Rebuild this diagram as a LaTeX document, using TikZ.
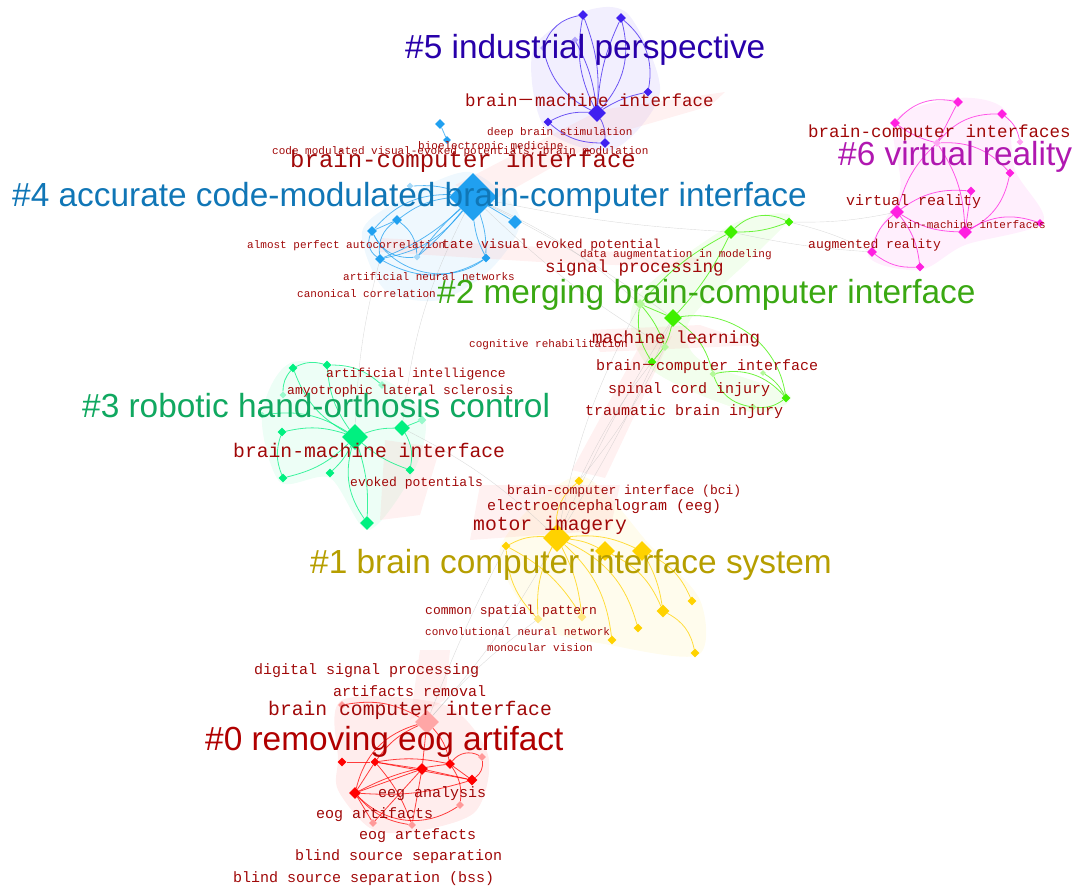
\documentclass[tikz,border=0pt]{standalone}
\usepackage{fontspec}
\newfontfamily\kwfont{Liberation Mono}
\newfontfamily\clufont{Liberation Sans}
\newfontfamily\cjk{Noto Sans CJK SC}
\usetikzlibrary{shapes.geometric,backgrounds}
\definecolor{kwred}{RGB}{160,8,8}
\definecolor{c0t}{RGB}{176,0,0}
\definecolor{c1t}{RGB}{182,158,0}
\definecolor{c2t}{RGB}{58,168,18}
\definecolor{c3t}{RGB}{16,168,96}
\definecolor{c4t}{RGB}{16,118,182}
\definecolor{c5t}{RGB}{40,0,170}
\definecolor{c6t}{RGB}{176,24,176}
\definecolor{c0n}{RGB}{255,0,0}
\definecolor{c1n}{RGB}{255,210,0}
\definecolor{c2n}{RGB}{64,240,0}
\definecolor{c3n}{RGB}{0,240,128}
\definecolor{c4n}{RGB}{32,160,240}
\definecolor{c5n}{RGB}{64,32,240}
\definecolor{c6n}{RGB}{255,32,224}
\begin{document}
\begin{tikzpicture}[x=1pt, y=-1pt,
	dia/.style={diamond, inner sep=0pt, draw=none, minimum size=#1},
	kw/.style={text=kwred, inner sep=0pt, anchor=mid west},
	kwxs/.style={kw, font=\kwfont\fontsize{11}{13}\selectfont},
	kws/.style={kw, font=\kwfont\fontsize{13}{15}\selectfont},
	kwm/.style={kw, font=\kwfont\fontsize{15}{17}\selectfont},
	kwl/.style={kw, font=\kwfont\fontsize{17.5}{20}\selectfont},
	kwxl/.style={kw, font=\kwfont\fontsize{19.7}{22}\selectfont},
	kwxxl/.style={kw, font=\kwfont\fontsize{24}{28}\selectfont},
	clu/.style={font=\clufont\fontsize{33.4}{40}\selectfont, inner sep=0pt, anchor=base west},
	hull/.style={fill=#1, fill opacity=0.07},
	band/.style={fill=red!30, fill opacity=0.18},
	glink/.style={draw=gray!55, line width=0.4pt, opacity=0.5},
	link/.style={draw=#1, line width=0.8pt, opacity=0.75}]
	\useasboundingbox (0,0) rectangle (1081,887);

	% cluster 5
	\node[dia=18pt, fill=c5n] (n5h) at (597,113) {};
	\node[dia=10pt, fill=c5n] (n5a) at (583,15) {};
	\node[dia=10pt, fill=c5n] (n5b) at (621,18) {};
	\node[dia=9pt, fill=c5n] (n5c) at (648,92) {};
	\node[dia=9pt, fill=c5n] (n5d) at (548,122) {};
	\node[dia=10pt, fill=c5n] (n5e) at (605,143) {};
	\node[dia=7pt, fill=c5n!40] (n5f) at (575,40) {};
	\node[dia=6pt, fill=c5n!40] (n5g) at (543,48) {};
	% cluster 4
	\node[dia=48pt, fill=c4n] (n4h) at (473,197) {};
	\node[dia=10pt, fill=c4n] (n4a) at (440,124) {};
	\node[dia=8pt, fill=c4n] (n4b) at (447,140) {};
	\node[dia=7pt, fill=c4n!40] (n4c) at (410,186) {};
	\node[dia=10pt, fill=c4n] (n4d) at (397,220) {};
	\node[dia=10pt, fill=c4n] (n4e) at (372,231) {};
	\node[dia=14pt, fill=c4n] (n4f) at (515,222) {};
	\node[dia=10pt, fill=c4n] (n4g) at (380,259) {};
	\node[dia=9pt, fill=c4n] (n4k) at (486,258) {};
	\node[dia=7pt, fill=c4n!40] (n4i) at (417,257) {};
	% cluster 6
	\node[dia=10pt, fill=c6n] (n6a) at (958,102) {};
	\node[dia=10pt, fill=c6n] (n6b) at (1002,114) {};
	\node[dia=10pt, fill=c6n] (n6c) at (895,123) {};
	\node[dia=7pt, fill=c6n!40] (n6d) at (1020,142) {};
	\node[dia=9pt, fill=c6n] (n6e) at (1010,173) {};
	\node[dia=9pt, fill=c6n] (n6f) at (971,191) {};
	\node[dia=14pt, fill=c6n] (n6g) at (897,212) {};
	\node[dia=14pt, fill=c6n] (n6h) at (965,232) {};
	\node[dia=8pt, fill=c6n] (n6i) at (1040,223) {};
	\node[dia=10pt, fill=c6n] (n6j) at (872,252) {};
	\node[dia=9pt, fill=c6n] (n6k) at (920,267) {};
	\node[dia=8pt, fill=c6n!40] (n6l) at (937,143) {};
	% cluster 2
	\node[dia=14pt, fill=c2n] (n2a) at (731,232) {};
	\node[dia=9pt, fill=c2n] (n2b) at (789,222) {};
	\node[dia=18pt, fill=c2n] (n2c) at (673,318) {};
	\node[dia=10pt, fill=c2n!40] (n2d) at (640,304) {};
	\node[dia=8pt, fill=c2n!40] (n2e) at (665,347) {};
	\node[dia=9pt, fill=c2n] (n2f) at (652,362) {};
	\node[dia=7pt, fill=c2n!40] (n2g) at (713,374) {};
	\node[dia=9pt, fill=c2n] (n2h) at (786,398) {};
	\node[dia=7pt, fill=c2n!40] (n2i) at (753,407) {};
	\node[dia=6pt, fill=c2n!40] (n2j) at (763,373) {};
	% cluster 3
	\node[dia=26pt, fill=c3n] (n3h) at (355,437) {};
	\node[dia=9pt, fill=c3n] (n3a) at (293,368) {};
	\node[dia=9pt, fill=c3n] (n3b) at (327,365) {};
	\node[dia=8pt, fill=c3n!40] (n3c) at (382,385) {};
	\node[dia=7pt, fill=c3n!40] (n3d) at (283,395) {};
	\node[dia=16pt, fill=c3n] (n3e) at (402,428) {};
	\node[dia=9pt, fill=c3n!40] (n3f) at (422,420) {};
	\node[dia=9pt, fill=c3n] (n3g) at (282,432) {};
	\node[dia=9pt, fill=c3n] (n3i) at (283,478) {};
	\node[dia=9pt, fill=c3n] (n3j) at (330,473) {};
	\node[dia=9pt, fill=c3n] (n3k) at (410,470) {};
	\node[dia=14pt, fill=c3n] (n3l) at (367,523) {};
	\node[dia=7pt, fill=c3n!40] (n3m) at (262,415) {};
	% cluster 1
	\node[dia=28pt, fill=c1n] (n1h) at (557,538) {};
	\node[dia=9pt, fill=c1n] (n1a) at (579,481) {};
	\node[dia=9pt, fill=c1n] (n1b) at (506,546) {};
	\node[dia=20pt, fill=c1n] (n1c) at (605,551) {};
	\node[dia=20pt, fill=c1n] (n1d) at (642,551) {};
	\node[dia=9pt, fill=c1n] (n1e) at (692,601) {};
	\node[dia=13pt, fill=c1n] (n1f) at (663,611) {};
	\node[dia=9pt, fill=c1n] (n1g) at (638,628) {};
	\node[dia=9pt, fill=c1n] (n1i) at (612,640) {};
	\node[dia=9pt, fill=c1n] (n1j) at (695,653) {};
	\node[dia=9pt, fill=c1n!50] (n1k) at (538,619) {};
	\node[dia=9pt, fill=c1n!50] (n1l) at (582,617) {};
	% cluster 0
	\node[dia=24pt, fill=c0n!35] (n0h) at (427,722) {};
	\node[dia=9pt, fill=c0n] (n0a) at (342,762) {};
	\node[dia=9pt, fill=c0n] (n0b) at (375,762) {};
	\node[dia=12pt, fill=c0n] (n0c) at (422,769) {};
	\node[dia=10pt, fill=c0n] (n0d) at (450,764) {};
	\node[dia=8pt, fill=c0n!40] (n0e) at (482,757) {};
	\node[dia=11pt, fill=c0n] (n0f) at (472,780) {};
	\node[dia=12pt, fill=c0n] (n0g) at (355,793) {};
	\node[dia=8pt, fill=c0n!40] (n0i) at (460,805) {};
	\node[dia=8pt, fill=c0n!40] (n0j) at (412,825) {};
	\node[dia=8pt, fill=c0n!40] (n0k) at (373,823) {};
	\node[dia=8pt, fill=c0n!40] (n0l) at (342,705) {};

	\begin{scope}[on background layer]
		% hulls and burst bands
		\fill[hull=c5n] plot[smooth cycle] coordinates {(583,12) (628,14) (660,92) (612,150) (545,128) (533,50)};
		\fill[hull=c4n] plot[smooth cycle] coordinates {(470,172) (520,218) (492,268) (440,300) (385,290) (362,232) (400,200)};
		\fill[hull=c6n] plot[smooth cycle] coordinates {(895,120) (958,98) (1005,110) (1015,170) (1043,222) (965,245) (920,270) (868,255) (900,190)};
		\fill[hull=c2n] plot[smooth cycle] coordinates {(731,225) (790,215) (760,250) (690,320) (700,360) (790,395) (750,412) (650,368) (635,300)};
		\fill[hull=c3n] plot[smooth cycle] coordinates {(293,362) (385,380) (425,420) (412,475) (368,530) (330,478) (280,482) (262,415)};
		\fill[hull=c1n] plot[smooth cycle] coordinates {(579,476) (650,545) (700,600) (698,655) (610,645) (540,625) (500,548)};
		\fill[hull=c0n] plot[smooth cycle] coordinates {(342,700) (445,705) (488,755) (475,812) (412,832) (370,828) (338,790) (338,760)};
		\fill[band] (455,185) -- (600,110) -- (725,92) -- (710,106) -- (610,135) -- (490,202) -- cycle;
		\fill[band] (380,238) -- (560,248) -- (700,258) -- (690,268) -- (540,262) -- (380,252) -- cycle;
		\fill[band] (572,470) -- (640,345) -- (672,336) -- (605,478) -- cycle;
		\fill[band] (590,330) -- (700,325) -- (760,345) -- (600,352) -- cycle;
		\fill[band] (385,440) -- (440,448) -- (420,515) -- (380,520) -- cycle;
		\fill[band] (480,485) -- (620,485) -- (610,530) -- (470,540) -- cycle;
		\fill[band] (420,650) -- (450,650) -- (445,700) -- (410,720) -- cycle;
		% links between clusters
		\draw[glink] (n4h) to[bend left=8] (n2d);
		\draw[glink] (n4h) to[bend left=4] (n2c);
		\draw[glink] (n4h) to[bend right=6] (n2e);
		\draw[glink] (n4h) to[bend right=10] (n3e);
		\draw[glink] (n4h) to[bend right=4] (n2a);
		\draw[glink] (n1h) to[bend left=4] (n2c);
		\draw[glink] (n1h) to[bend right=4] (n2c);
		\draw[glink] (n1a) to[bend left=6] (n2f);
		\draw[glink] (n1a) to[bend right=6] (n2e);
		\draw[glink] (n1h) to[bend left=8] (n2d);
		\draw[glink] (n1h) to[bend right=8] (n3e);
		\draw[glink] (n0h) to[bend left=6] (n1k);
		\draw[glink] (n0h) to[bend right=6] (n1h);
		\draw[glink] (n0h) to[bend left=3] (n1b);
		\draw[glink] (n6g) to[bend left=6] (n2b);
		\draw[glink] (n6j) to[bend right=6] (n2b);
		\draw[glink] (n6j) to[bend left=4] (n2a);
		\draw[glink] (n3h) to[bend left=6] (n4g);
		% cluster 5
		\draw[link=c5n] (n5h) to[bend left=18] (n5a);
		\draw[link=c5n] (n5h) to[bend right=12] (n5a);
		\draw[link=c5n] (n5h) to[bend left=10] (n5b);
		\draw[link=c5n] (n5h) to[bend right=28] (n5b);
		\draw[link=c5n] (n5b) to[bend left=30] (n5c);
		\draw[link=c5n] (n5h) to[bend left=10] (n5c);
		\draw[link=c5n] (n5h) to[bend right=15] (n5d);
		\draw[link=c5n] (n5h) to[bend left=15] (n5e);
		\draw[link=c5n] (n5d) to[bend right=20] (n5e);
		\draw[link=c5n] (n5a) to[bend right=30] (n5g);
		\draw[link=c5n] (n5g) to[bend right=25] (n5h);
		\draw[link=c5n] (n5f) to[bend left=10] (n5h);
		% cluster 4
		\draw[link=c4n] (n4a) -- (n4b);
		\draw[link=c4n] (n4h) to[bend right=15] (n4d);
		\draw[link=c4n] (n4h) to[bend right=25] (n4e);
		\draw[link=c4n] (n4h) to[bend left=10] (n4g);
		\draw[link=c4n] (n4h) to[bend left=20] (n4g);
		\draw[link=c4n] (n4h) to[bend left=5] (n4i);
		\draw[link=c4n] (n4h) to[bend right=5] (n4i);
		\draw[link=c4n] (n4h) to[bend left=10] (n4k);
		\draw[link=c4n] (n4h) to[bend right=10] (n4k);
		\draw[link=c4n] (n4h) -- (n4f);
		\draw[link=c4n] (n4h) to[bend right=10] (n4c);
		\draw[link=c4n] (n4d) -- (n4e);
		\draw[link=c4n] (n4d) to[bend right=30] (n4g);
		\draw[link=c4n] (n4e) to[bend right=40] (n4g);
		\draw[link=c4n] (n4e) to[bend right=35] (n4i);
		\draw[link=c4n] (n4g) to[bend right=30] (n4k);
		\draw[link=c4n] (n4d) to[bend left=25] (n4i);
		\draw[link=c4n] (n4e) to[bend right=50] (n4k);
		% cluster 6
		\draw[link=c6n] (n6c) to[bend left=30] (n6a);
		\draw[link=c6n] (n6a) -- (n6l);
		\draw[link=c6n] (n6b) to[bend right=25] (n6l);
		\draw[link=c6n] (n6l) to[bend left=25] (n6e);
		\draw[link=c6n] (n6l) to[bend right=15] (n6g);
		\draw[link=c6n] (n6c) to[bend right=10] (n6l);
		\draw[link=c6n] (n6l) to[bend left=15] (n6h);
		\draw[link=c6n] (n6g) to[bend left=20] (n6f);
		\draw[link=c6n] (n6g) to[bend right=15] (n6h);
		\draw[link=c6n] (n6h) to[bend left=25] (n6i);
		\draw[link=c6n] (n6g) to[bend right=20] (n6j);
		\draw[link=c6n] (n6j) to[bend right=20] (n6k);
		\draw[link=c6n] (n6g) to[bend left=15] (n6k);
		\draw[link=c6n] (n6h) to[bend right=25] (n6e);
		\draw[link=c6n] (n6f) -- (n6h);
		\draw[link=c6n] (n6b) to[bend left=20] (n6d);
		% cluster 2
		\draw[link=c2n] (n2a) to[bend left=35] (n2b);
		\draw[link=c2n] (n2a) to[bend right=10] (n2b);
		\draw[link=c2n] (n2a) to[bend left=8] (n2c);
		\draw[link=c2n] (n2a) to[bend right=10] (n2d);
		\draw[link=c2n] (n2c) -- (n2d);
		\draw[link=c2n] (n2c) to[bend left=15] (n2f);
		\draw[link=c2n] (n2d) to[bend right=20] (n2f);
		\draw[link=c2n] (n2d) to[bend left=10] (n2e);
		\draw[link=c2n] (n2c) to[bend left=20] (n2g);
		\draw[link=c2n] (n2g) to[bend left=30] (n2h);
		\draw[link=c2n] (n2h) to[bend left=20] (n2i);
		\draw[link=c2n] (n2j) to[bend left=15] (n2h);
		\draw[link=c2n] (n2c) to[bend left=45] (n2h);
		\draw[link=c2n] (n2g) to[bend right=30] (n2i);
		% cluster 3
		\draw[link=c3n] (n3h) to[bend right=15] (n3g);
		\draw[link=c3n] (n3h) to[bend left=15] (n3i);
		\draw[link=c3n] (n3h) to[bend left=10] (n3j);
		\draw[link=c3n] (n3h) to[bend right=10] (n3k);
		\draw[link=c3n] (n3h) to[bend left=10] (n3l);
		\draw[link=c3n] (n3h) to[bend right=25] (n3l);
		\draw[link=c3n] (n3h) to[bend left=10] (n3e);
		\draw[link=c3n] (n3h) to[bend left=15] (n3b);
		\draw[link=c3n] (n3h) to[bend left=20] (n3a);
		\draw[link=c3n] (n3a) to[bend right=20] (n3d);
		\draw[link=c3n] (n3b) to[bend left=20] (n3c);
		\draw[link=c3n] (n3e) -- (n3f);
		\draw[link=c3n] (n3e) to[bend left=20] (n3k);
		\draw[link=c3n] (n3g) to[bend right=20] (n3i);
		\draw[link=c3n] (n3m) to[bend left=20] (n3h);
		\draw[link=c3n] (n3a) to[bend left=20] (n3b);
		% cluster 1
		\draw[link=c1n] (n1h) to[bend left=25] (n1a);
		\draw[link=c1n] (n1h) to[bend right=15] (n1b);
		\draw[link=c1n] (n1h) to[bend left=10] (n1c);
		\draw[link=c1n] (n1h) to[bend left=15] (n1d);
		\draw[link=c1n] (n1c) to[bend left=20] (n1f);
		\draw[link=c1n] (n1d) to[bend left=10] (n1f);
		\draw[link=c1n] (n1d) to[bend left=20] (n1e);
		\draw[link=c1n] (n1f) to[bend left=25] (n1j);
		\draw[link=c1n] (n1h) to[bend left=25] (n1g);
		\draw[link=c1n] (n1h) to[bend left=20] (n1i);
		\draw[link=c1n] (n1h) to[bend right=15] (n1k);
		\draw[link=c1n] (n1h) to[bend left=10] (n1l);
		\draw[link=c1n] (n1b) to[bend right=20] (n1k);
		\draw[link=c1n] (n1b) to[bend left=15] (n1l);
		% cluster 0
		\draw[link=c0n] (n0g) -- (n0b);
		\draw[link=c0n] (n0g) -- (n0c);
		\draw[link=c0n] (n0g) to[bend left=10] (n0d);
		\draw[link=c0n] (n0g) to[bend right=10] (n0f);
		\draw[link=c0n] (n0b) -- (n0c);
		\draw[link=c0n] (n0b) to[bend left=10] (n0d);
		\draw[link=c0n] (n0b) -- (n0f);
		\draw[link=c0n] (n0c) -- (n0f);
		\draw[link=c0n] (n0c) -- (n0j);
		\draw[link=c0n] (n0c) -- (n0k);
		\draw[link=c0n] (n0g) to[bend right=20] (n0j);
		\draw[link=c0n] (n0g) -- (n0k);
		\draw[link=c0n] (n0b) to[bend left=10] (n0j);
		\draw[link=c0n] (n0d) -- (n0f);
		\draw[link=c0n] (n0d) to[bend left=20] (n0i);
		\draw[link=c0n] (n0f) to[bend right=30] (n0e);
		\draw[link=c0n] (n0a) -- (n0b);
		\draw[link=c0n] (n0h) to[bend right=15] (n0b);
		\draw[link=c0n] (n0h) -- (n0c);
		\draw[link=c0n] (n0h) to[bend left=15] (n0d);
		\draw[link=c0n] (n0h) to[bend right=30] (n0g);
		\draw[link=c0n] (n0l) to[bend left=20] (n0h);
		\draw[link=c0n] (n0g) to[bend right=40] (n0i);
		\draw[link=c0n] (n0d) to[bend left=40] (n0e);
	\end{scope}

	% keyword labels
	\node[kwl] (kw5a) at (465,104) {brain{\cjk －}machine interface};
	\node[kwxs] (kw5b) at (487,133) {deep brain stimulation};
	\node[kwxs] (kw5c) at (272,152) {code modulated visual-evoked potentials; brain modulation};
	\node[kwxs] (kw5d) at (418,147) {bioelectronic medicine};
	\node[kwxxl] (kw4a) at (290,165) {brain-computer interface};
	\node[kwxs] (kw4b) at (247,246) {almost perfect autocorrelation};
	\node[kws] (kw4c) at (442,246) {tate visual evoked potential};
	\node[kwxs] (kw2a) at (580,255) {data augmentation in modeling};
	\node[kwxs] (kw4d) at (343,278) {artificial neural networks};
	\node[kwxs] (kw4e) at (297,295) {canonical correlation};
	\node[kwl] (kw2b) at (545,270) {signal processing};
	\node[kwxs] (kw2c) at (469,345) {cognitive rehabilitation};
	\node[kwl] (kw2d) at (592,341) {machine learning};
	\node[kwm] (kw2e) at (596,368) {brain{\cjk －}computer interface};
	\node[kwm] (kw2f) at (608,391) {spinal cord injury};
	\node[kwm] (kw2g) at (585,413) {traumatic brain injury};
	\node[kws] (kw3a) at (326,375) {artificial intelligence};
	\node[kws] (kw3b) at (287,392) {amyotrophic lateral sclerosis};
	\node[kwxl] (kw3c) at (233,455) {brain-machine interface};
	\node[kws] (kw3d) at (350,484) {evoked potentials};
	\node[kws] (kw1a) at (507,492) {brain-computer interface (bci)};
	\node[kwm] (kw1b) at (487,508) {electroencephalogram (eeg)};
	\node[kwxl] (kw1c) at (473,528) {motor imagery};
	\node[kws] (kw1d) at (425,612) {common spatial pattern};
	\node[kwxs] (kw1e) at (425,633) {convolutional neural network};
	\node[kwxs] (kw1f) at (487,649) {monocular vision};
	\node[kwm] (kw0a) at (254,672) {digital signal processing};
	\node[kwm] (kw0b) at (333,694) {artifacts removal};
	\node[kwxl] (kw0c) at (268,713) {brain computer interface};
	\node[kwm] (kw0d) at (378,795) {eeg analysis};
	\node[kwm] (kw0e) at (316,816) {eog artifacts};
	\node[kwm] (kw0f) at (359,837) {eog artefacts};
	\node[kwm] (kw0g) at (295,858) {blind source separation};
	\node[kwm] (kw0h) at (233,880) {blind source separation (bss)};
	\node[kwl] (kw6a) at (808,135) {brain-computer interfaces};
	\node[kwm] (kw6b) at (846,203) {virtual reality};
	\node[kwxs] (kw6c) at (887,226) {brain-machine interfaces};
	\node[kws] (kw6d) at (808,246) {augmented reality};

	% cluster labels
	\node[clu, text=c5t] (cl5) at (405,58) {\#5 industrial perspective};
	\node[clu, text=c6t] (cl6) at (838,165) {\#6 virtual reality};
	\node[clu, text=c4t] (cl4) at (12,206) {\#4 accurate code-modulated brain-computer interface};
	\node[clu, text=c2t] (cl2) at (437,303) {\#2 merging brain-computer interface};
	\node[clu, text=c3t] (cl3) at (82,417) {\#3 robotic hand-orthosis control};
	\node[clu, text=c1t] (cl1) at (310,573) {\#1 brain computer interface system};
	\node[clu, text=c0t] (cl0) at (205,750) {\#0 removing eog artifact};
\end{tikzpicture}
\end{document}
